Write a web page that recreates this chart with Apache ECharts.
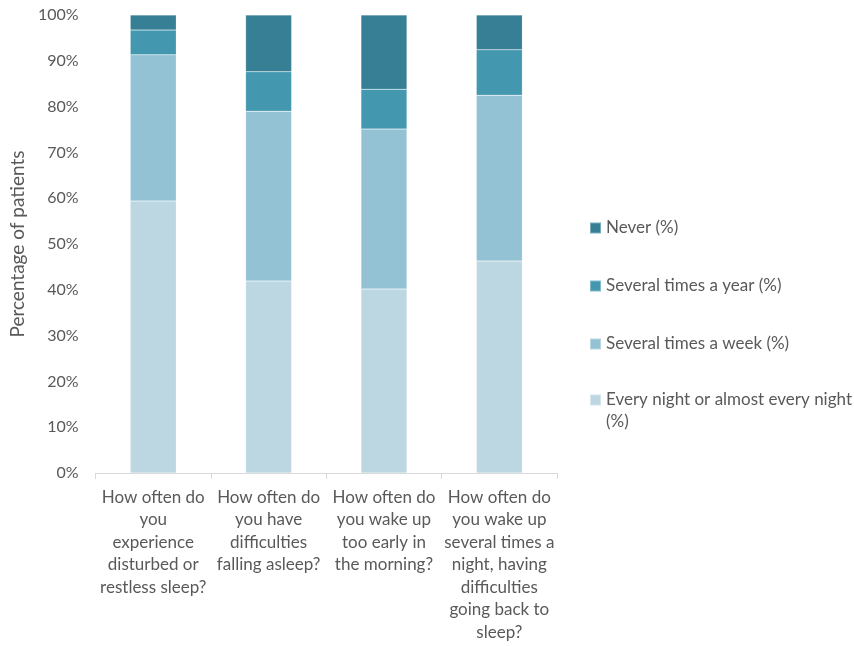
<!DOCTYPE html>
<html><head><meta charset="utf-8">
<script src="https://cdn.jsdelivr.net/npm/echarts@6/dist/echarts.min.js"></script>
<style>html,body{margin:0;padding:0;background:#fff}#c{width:854px;height:646px}</style>
</head><body><div id="c"></div>
<script>
const categories = [
  "How often do\nyou\nexperience\ndisturbed or\nrestless sleep?",
  "How often do\nyou have\ndifficulties\nfalling asleep?",
  "How often do\nyou wake up\ntoo early in\nthe morning?",
  "How often do\nyou wake up\nseveral times a\nnight, having\ndifficulties\ngoing back to\nsleep?"
];
const seriesNames = ["Every night or almost every night (%)", "Several times a week (%)", "Several times a year (%)", "Never (%)"];
const everyNight = [59.4, 41.9, 40.2, 46.3];
const severalWeek = [31.9, 37.1, 34.9, 36.2];
const severalYear = [5.4, 8.6, 8.7, 9.9];
const never = [3.3, 12.4, 16.2, 7.6];
const yTicks = [0, 10, 20, 30, 40, 50, 60, 70, 80, 90, 100];
const colors = ["#BDD7E2", "#93C2D4", "#4397AF", "#367F94"];

const font = "Lato, 'Open Sans', sans-serif";
const txt = "#595959";
const values = [everyNight, severalWeek, severalYear, never];

const legendTops = [217, 275, 333, 388];
const legendOrder = [3, 2, 1, 0];
const legends = legendOrder.map((si, k) => {
  const last = si === 0;
  return {
    left: 589,
    top: legendTops[k],
    orient: 'vertical',
    itemWidth: 11, itemHeight: last ? 44 : 11,
    itemGap: 0,
    icon: last ? 'path://M0,0L0,0M0,5.5L11,5.5L11,16.5L0,16.5ZM11,44L11,44' : 'rect',
    selectedMode: false,
    padding: 0,
    data: [seriesNames[si]],
    formatter: last ? () => "Every night or almost every night\n(%)" : undefined,
    textStyle: {fontFamily: font, fontSize: 17, color: txt, lineHeight: 22}
  };
});

const chart = echarts.init(document.getElementById('c'));
chart.setOption({
  animation: false,
  grid: {left: 95, right: 297, top: 15, bottom: 173},
  legend: legends,
  xAxis: {
    type: 'category',
    data: categories,
    axisLine: {lineStyle: {color: '#D9D9D9'}},
    axisTick: {show: true, length: 6, lineStyle: {color: '#D9D9D9'}},
    axisLabel: {interval: 0, fontFamily: font, fontSize: 17, color: txt, lineHeight: 22.5, margin: 13, align: 'center'}
  },
  yAxis: {
    type: 'value',
    min: yTicks[0], max: yTicks[yTicks.length - 1], interval: 10,
    name: 'Percentage of patients',
    nameLocation: 'middle',
    nameGap: 67,
    nameTextStyle: {fontFamily: font, fontSize: 19, color: txt},
    axisLine: {show: false},
    axisTick: {show: false},
    splitLine: {show: false},
    axisLabel: {formatter: v => yTicks.includes(v) ? v + '%' : '', fontFamily: font, fontSize: 16, color: txt, margin: 17}
  },
  series: values.map((d, i) => ({
    name: seriesNames[i],
    type: 'bar',
    stack: 'all',
    barWidth: 46,
    data: d,
    itemStyle: {color: colors[i], borderColor: 'rgba(255,255,255,0.35)', borderWidth: 0.5}
  }))
});
</script>
</body></html>
